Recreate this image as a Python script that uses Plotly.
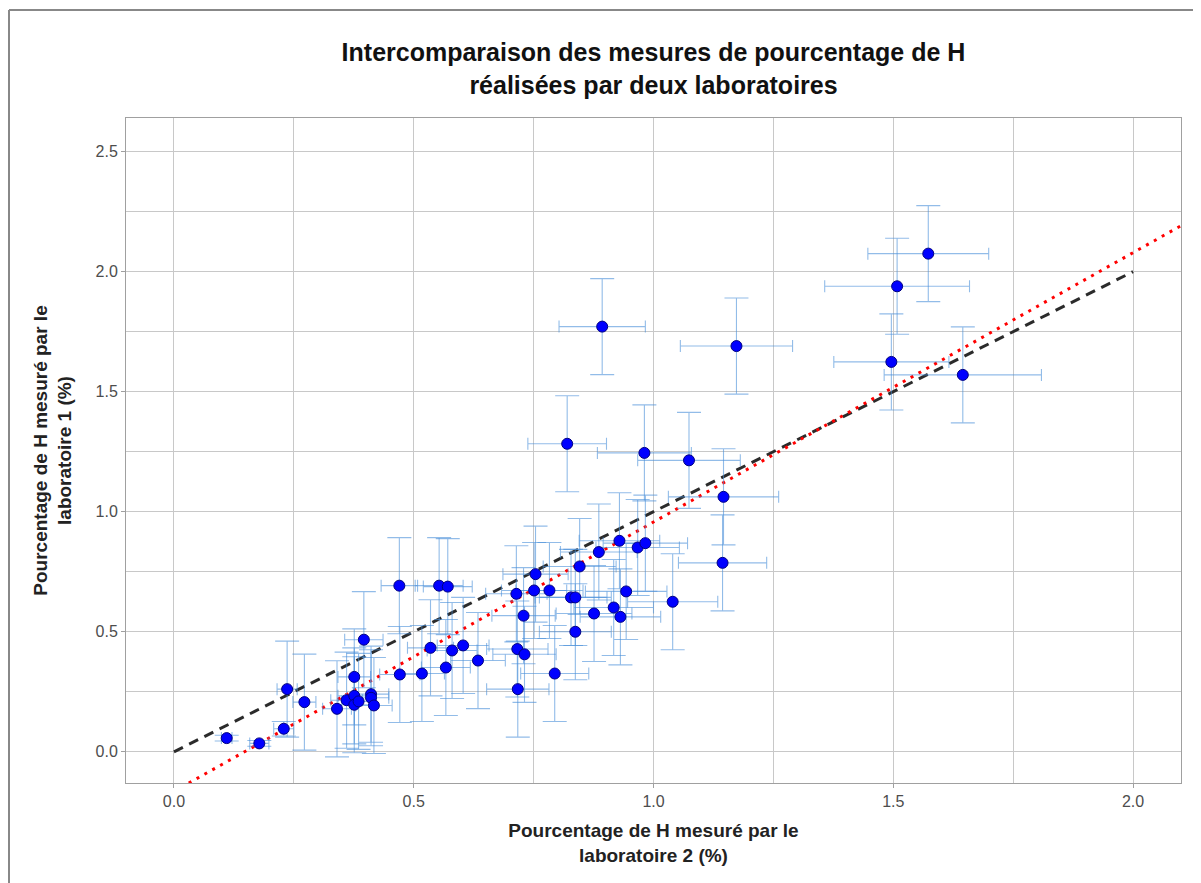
import plotly.graph_objects as go

# Pourcentage de H mesuré par le laboratoire 2 (x) et le laboratoire 1 (y)
lab2 = [0.110, 0.178, 0.229, 0.236, 0.272, 0.340, 0.360, 0.376, 0.376, 0.385,
        0.376, 0.396, 0.411, 0.411, 0.417, 0.470, 0.553, 0.571, 0.535, 0.580,
        0.603, 0.471, 0.517, 0.567, 0.634, 0.717, 0.716, 0.731, 0.729, 0.714,
        0.751, 0.754, 0.783, 0.794, 0.828, 0.837, 0.837, 0.846, 0.876, 0.886,
        0.917, 0.931, 0.943, 0.929, 0.967, 0.983, 1.040, 1.146, 1.144, 0.893,
        1.173, 0.820, 0.981, 1.074, 1.573, 1.508, 1.496, 1.645]
lab1 = [0.057, 0.035, 0.096, 0.261, 0.207, 0.179, 0.215, 0.233, 0.196, 0.210,
        0.312, 0.467, 0.240, 0.225, 0.193, 0.692, 0.692, 0.688, 0.433, 0.422,
        0.443, 0.322, 0.326, 0.351, 0.380, 0.261, 0.428, 0.406, 0.567, 0.658,
        0.672, 0.740, 0.672, 0.326, 0.643, 0.643, 0.500, 0.772, 0.576, 0.832,
        0.601, 0.562, 0.668, 0.879, 0.851, 0.869, 0.625, 1.062, 0.787, 1.771,
        1.690, 1.283, 1.245, 1.214, 2.075, 1.939, 1.624, 1.570]
err_lab2 = [0.011, 0.020, 0.021, 0.021, 0.024, 0.030, 0.033, 0.034, 0.034, 0.035,
            0.034, 0.040, 0.037, 0.037, 0.038, 0.038, 0.050, 0.051, 0.048, 0.052,
            0.054, 0.042, 0.047, 0.051, 0.057, 0.065, 0.064, 0.066, 0.066, 0.064,
            0.068, 0.068, 0.070, 0.071, 0.075, 0.075, 0.075, 0.076, 0.079, 0.080,
            0.083, 0.084, 0.085, 0.084, 0.087, 0.088, 0.094, 0.115, 0.092, 0.090,
            0.117, 0.082, 0.098, 0.107, 0.126, 0.151, 0.120, 0.164]
err_lab1 = [0.012, 0.012, 0.030, 0.200, 0.200, 0.200, 0.200, 0.200, 0.200, 0.200,
            0.200, 0.200, 0.200, 0.200, 0.200, 0.200, 0.200, 0.200, 0.200, 0.200,
            0.200, 0.200, 0.200, 0.200, 0.200, 0.200, 0.200, 0.200, 0.200, 0.200,
            0.200, 0.200, 0.200, 0.200, 0.200, 0.200, 0.200, 0.200, 0.200, 0.200,
            0.200, 0.200, 0.200, 0.200, 0.200, 0.200, 0.200, 0.200, 0.200, 0.200,
            0.200, 0.200, 0.200, 0.200, 0.200, 0.200, 0.200, 0.200]

# Droite y = x et droite de régression
identity_x = [0.0, 2.0]
identity_y = [0.0, 2.0]
reg_slope = 1.122
reg_intercept = -0.165
reg_x = [-0.1, 2.1]
reg_y = [reg_intercept + reg_slope * v for v in reg_x]

x_ticks = [0.0, 0.5, 1.0, 1.5, 2.0]
y_ticks = [0.0, 0.5, 1.0, 1.5, 2.0, 2.5]

FONT = "Liberation Sans, Arial, sans-serif"

W, H = 1193, 875
ML, MR, MT, MB = 118, 20, 110, 100
PW, PH = W - ML - MR, H - MT - MB

fig = go.Figure()

fig.add_trace(go.Scatter(
    x=identity_x, y=identity_y, mode="lines",
    line=dict(color="#2b2b2b", width=3, dash="10px,7px"),
    hoverinfo="skip", showlegend=False))

fig.add_trace(go.Scatter(
    x=reg_x, y=reg_y, mode="lines",
    line=dict(color="#ff0000", width=3, dash="3px,6px"),
    hoverinfo="skip", showlegend=False))

fig.add_trace(go.Scatter(
    x=lab2, y=lab1, mode="markers",
    marker=dict(color="#0000ff", size=11, line=dict(color="#000080", width=1)),
    error_x=dict(type="data", array=err_lab2, visible=True,
                 color="rgba(74,144,217,0.6)", thickness=1.1, width=6),
    error_y=dict(type="data", array=err_lab1, visible=True,
                 color="rgba(74,144,217,0.6)", thickness=1.1, width=12),
    showlegend=False))

axis_common = dict(
    showgrid=True, gridcolor="#c8c8c8", gridwidth=1,
    showline=True, linecolor="#a0a0a0", linewidth=1, mirror=True,
    ticks="outside", ticklen=4, tickcolor="#a0a0a0",
    tickfont=dict(family=FONT, size=16, color="#4d4d4d"),
    zeroline=False,
)

frame_top = (H - MB - 2) / PH
frame_left = (1 - ML) / PW
frame_right = (W - ML) / PW
frame_bottom = -MB / PH

fig.update_layout(
    width=W, height=H,
    paper_bgcolor="white", plot_bgcolor="white",
    margin=dict(l=ML, r=MR, t=MT, b=MB, autoexpand=False),
    title=dict(
        text="<b>Intercomparaison des mesures de pourcentage de H<br>réalisées par deux laboratoires</b>",
        x=0.5, xref="paper", xanchor="center",
        y=1 - 53 / H, yref="container", yanchor="middle",
        font=dict(family=FONT, size=25, color="#111111")),
    xaxis=dict(
        range=[-0.1, 2.1], tickvals=x_ticks, ticktext=["0.0", "0.5", "1.0", "1.5", "2.0"],
        minor=dict(dtick=0.25, tick0=0, showgrid=True, gridcolor="#c8c8c8", gridwidth=1),
        title=dict(text="<b>Pourcentage de H mesuré par le<br>laboratoire 2 (%)</b>",
                   font=dict(family=FONT, size=19, color="#222222"), standoff=14),
        automargin=False,
        **axis_common),
    yaxis=dict(
        range=[-0.13, 2.64], tickvals=y_ticks, ticktext=["0.0", "0.5", "1.0", "1.5", "2.0", "2.5"],
        minor=dict(dtick=0.25, tick0=0, showgrid=True, gridcolor="#c8c8c8", gridwidth=1),
        title=dict(text="<b>Pourcentage de H mesuré par le<br>laboratoire 1 (%)</b>",
                   font=dict(family=FONT, size=19, color="#222222"), standoff=18),
        automargin=False,
        **axis_common),
    shapes=[
        dict(type="line", xref="paper", yref="paper",
             x0=frame_left, x1=frame_right, y0=frame_top, y1=frame_top,
             line=dict(color="#888888", width=2), layer="below"),
        dict(type="line", xref="paper", yref="paper",
             x0=frame_left, x1=frame_left, y0=frame_bottom, y1=frame_top,
             line=dict(color="#888888", width=2), layer="below"),
    ],
)

fig.write_html("out.html")
